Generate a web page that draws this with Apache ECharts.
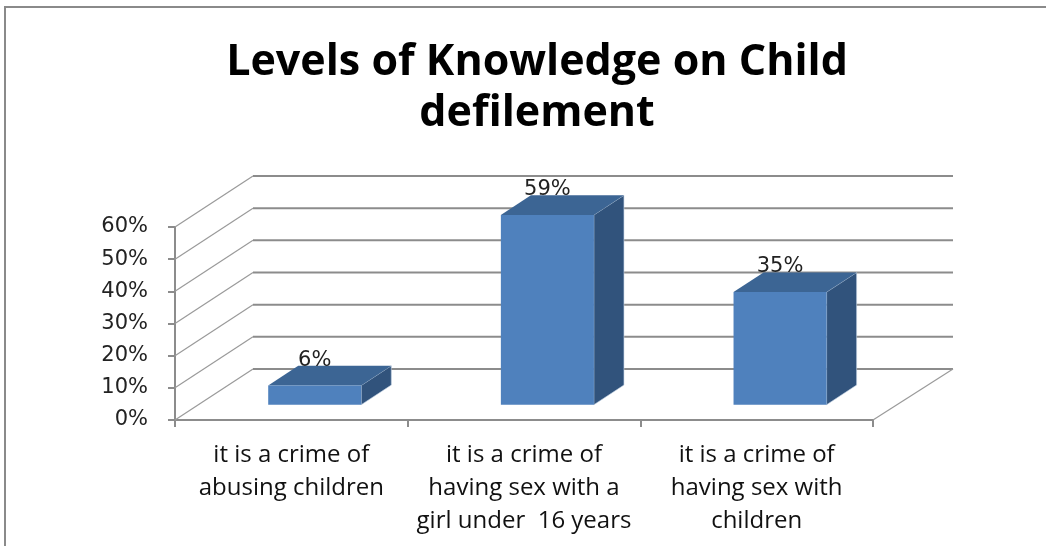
<!DOCTYPE html>
<html>
<head>
<meta charset="utf-8">
<script src="https://cdn.jsdelivr.net/npm/echarts@6/dist/echarts.min.js"></script>
<style>
html,body{margin:0;padding:0;background:#fff;}
#chart{width:1046px;height:546px;}
</style>
</head>
<body>
<div id="chart"></div>
<script>
// ---- data ----
const titleText = 'Levels of Knowledge on Child\ndefilement';
const categories = [
  'it is a crime of\nabusing children',
  'it is a crime of\nhaving sex with a\ngirl under  16 years',
  'it is a crime of\nhaving sex with\nchildren'
];
const values = [0.06, 0.59, 0.35];
const valueLabels = ['6%', '59%', '35%'];
const yTicks = [0, 0.1, 0.2, 0.3, 0.4, 0.5, 0.6];

// ---- 3D look (style) ----
const DX = 78, DY = -51;      // depth of the back wall
const F1 = 0.30, BD = 0.385;  // bar start depth / bar depth (fractions)
const BAR_W = 0.40;           // bar width as fraction of band

const chart = echarts.init(document.getElementById('chart'));

function wallsItem(params, api) {
  const v = api.value(1);
  const cs = params.coordSys;
  const L = cs.x, R = cs.x + cs.width;
  const y = api.coord([0, v])[1];
  const children = [
    { type: 'line', shape: { x1: L, y1: y, x2: L + DX, y2: y + DY },
      style: { stroke: '#9a9a9a', lineWidth: 1.2 } },
    { type: 'line', shape: { x1: L + DX, y1: y + DY, x2: R + DX + 2, y2: y + DY },
      style: { stroke: '#8c8c8c', lineWidth: 2 } }
  ];
  if (v === 0) {
    children.push({ type: 'line', shape: { x1: R, y1: y, x2: R + DX + 2, y2: y + DY },
      style: { stroke: '#9a9a9a', lineWidth: 1.2 } });
  }
  return { type: 'group', children };
}

function barItem(params, api) {
  const idx = api.value(0);
  const val = api.value(1);
  const top = api.coord([idx, val]);
  const base = api.coord([idx, 0]);
  const band = api.size([1, 0])[0];
  const w = band * BAR_W;
  const x0 = top[0] - w / 2 + F1 * DX;
  const yT = top[1] + F1 * DY;
  const yB = base[1] + F1 * DY;
  const dx = BD * DX, dy = BD * DY;
  return {
    type: 'group',
    children: [
      { type: 'polygon', shape: { points: [[x0 + w, yT], [x0 + w + dx, yT + dy], [x0 + w + dx, yB + dy], [x0 + w, yB]] },
        style: { fill: '#31537c', stroke: '#c5d3e4', lineWidth: 0.6 } },
      { type: 'polygon', shape: { points: [[x0, yT], [x0 + w, yT], [x0 + w + dx, yT + dy], [x0 + dx, yT + dy]] },
        style: { fill: '#3c6594' } },
      { type: 'rect', shape: { x: x0, y: yT, width: w, height: yB - yT },
        style: { fill: '#4f81bd' } },
      { type: 'text', x: x0 + w / 2, y: yT + dy + 5,
        style: { text: valueLabels[params.dataIndex], fill: '#222', font: '21px "DejaVu Sans"',
          textAlign: 'center', textVerticalAlign: 'bottom' } }
    ]
  };
}

const option = {
  animation: false,
  backgroundColor: '#fff',
  title: {
    text: titleText,
    left: 532, top: 32, textAlign: 'center',
    textStyle: { fontFamily: 'Open Sans', fontWeight: 'bold', fontSize: 43, lineHeight: 51, color: '#000' }
  },
  graphic: [
    { type: 'rect', shape: { x: 5, y: 7, width: 1100, height: 600 },
      style: { fill: 'none', stroke: '#8a8a8a', lineWidth: 2 }, silent: true }
  ],
  grid: { left: 175, right: 173, top: 227, bottom: 126, containLabel: false },
  xAxis: {
    type: 'category', data: categories,
    axisLine: { lineStyle: { color: '#8c8c8c', width: 2 } },
    axisTick: { show: true, length: 7, lineStyle: { color: '#8c8c8c', width: 2 } },
    axisLabel: { margin: 19, interval: 0, fontFamily: 'Open Sans', fontSize: 24, lineHeight: 33, color: '#111' },
    splitLine: { show: false }
  },
  yAxis: {
    type: 'value', min: 0, max: 0.6, interval: 0.1,
    axisLine: { show: true, lineStyle: { color: '#8c8c8c', width: 2 } },
    axisTick: { show: true, length: 7, lineStyle: { color: '#8c8c8c', width: 2 } },
    axisLabel: { margin: 27, fontFamily: 'DejaVu Sans', fontSize: 21, color: '#222',
      formatter: v => Math.round(v * 100) + '%' },
    splitLine: { show: false }
  },
  series: [
    { type: 'custom', name: 'walls', renderItem: wallsItem, silent: true, z: 1,
      data: yTicks.map(v => [0, v]) },
    { type: 'custom', name: 'bars', renderItem: barItem, z: 3,
      data: values.map((v, i) => [i, v]) }
  ]
};
chart.setOption(option);
</script>
</body>
</html>
